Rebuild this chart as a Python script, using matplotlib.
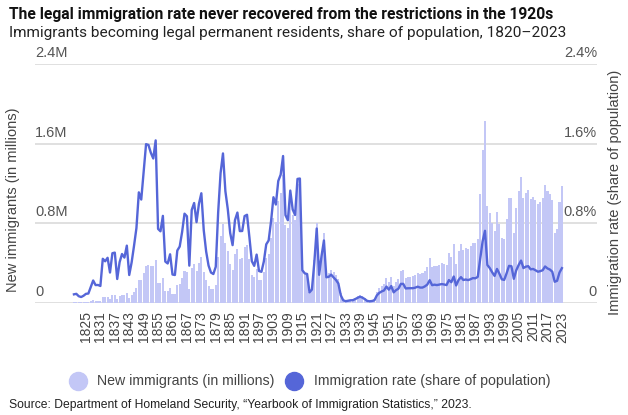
import matplotlib.pyplot as plt
from matplotlib.lines import Line2D
import matplotlib.transforms as mtransforms

years = list(range(1820, 2024))

# new legal permanent residents per year (millions)
immigrants = [
    0.008, 0.009, 0.007, 0.006, 0.008, 0.010, 0.011, 0.019, 0.027, 0.023,
    0.023, 0.023, 0.060, 0.059, 0.065, 0.045, 0.076, 0.079, 0.039, 0.068,
    0.084, 0.080, 0.105, 0.052, 0.079, 0.114, 0.154, 0.235, 0.227, 0.297,
    0.370, 0.379, 0.372, 0.369, 0.428, 0.201, 0.200, 0.251, 0.123, 0.121,
    0.154, 0.092, 0.092, 0.176, 0.193, 0.248, 0.319, 0.316, 0.139, 0.353,
    0.387, 0.321, 0.405, 0.460, 0.313, 0.227, 0.170, 0.142, 0.138, 0.178,
    0.457, 0.669, 0.789, 0.603, 0.519, 0.395, 0.334, 0.490, 0.547, 0.444,
    0.455, 0.560, 0.580, 0.440, 0.286, 0.259, 0.343, 0.231, 0.229, 0.312,
    0.449, 0.488, 0.649, 0.857, 0.813, 1.026, 1.101, 1.285, 0.783, 0.752,
    1.042, 0.879, 0.838, 1.198, 1.218, 0.327, 0.299, 0.295, 0.111, 0.141,
    0.430, 0.805, 0.310, 0.523, 0.707, 0.294, 0.304, 0.335, 0.307, 0.280,
    0.242, 0.097, 0.036, 0.023, 0.029, 0.035, 0.036, 0.050, 0.068, 0.083,
    0.071, 0.052, 0.029, 0.024, 0.029, 0.038, 0.109, 0.147, 0.171, 0.188,
    0.249, 0.206, 0.266, 0.170, 0.208, 0.238, 0.322, 0.327, 0.253, 0.261,
    0.265, 0.271, 0.284, 0.306, 0.292, 0.297, 0.323, 0.362, 0.454, 0.359,
    0.373, 0.370, 0.385, 0.399, 0.394, 0.385, 0.499, 0.459, 0.590, 0.394,
    0.524, 0.595, 0.534, 0.550, 0.542, 0.568, 0.600, 0.600, 0.641, 1.090,
    1.536, 1.827, 0.973, 0.904, 0.804, 0.720, 0.916, 0.798, 0.653, 0.645,
    0.841, 1.059, 1.059, 0.704, 0.958, 1.122, 1.266, 1.052, 1.107, 1.131,
    1.043, 1.062, 1.032, 0.991, 1.017, 1.051, 1.184, 1.127, 1.097, 1.032,
    0.707, 0.740, 1.018, 1.173,
]

# immigration rate (% of population)
rate = [
    0.087, 0.092, 0.068, 0.060, 0.073, 0.092, 0.095, 0.160, 0.226, 0.180,
    0.181, 0.171, 0.444, 0.419, 0.454, 0.306, 0.500, 0.506, 0.241, 0.410,
    0.492, 0.456, 0.576, 0.281, 0.408, 0.575, 0.753, 1.111, 1.039, 1.321,
    1.595, 1.587, 1.508, 1.451, 1.633, 0.744, 0.720, 0.875, 0.416, 0.397,
    0.489, 0.286, 0.281, 0.527, 0.567, 0.713, 0.897, 0.871, 0.375, 0.934,
    1.004, 0.812, 0.996, 1.102, 0.731, 0.517, 0.376, 0.306, 0.291, 0.364,
    0.911, 1.304, 1.502, 1.123, 0.943, 0.703, 0.581, 0.833, 0.908, 0.722,
    0.723, 0.873, 0.886, 0.659, 0.420, 0.373, 0.486, 0.321, 0.313, 0.417,
    0.589, 0.628, 0.820, 1.062, 0.989, 1.225, 1.289, 1.476, 0.882, 0.831,
    1.129, 0.939, 0.884, 1.246, 1.250, 0.330, 0.298, 0.291, 0.107, 0.135,
    0.406, 0.748, 0.283, 0.472, 0.628, 0.258, 0.263, 0.285, 0.257, 0.231,
    0.196, 0.078, 0.028, 0.018, 0.023, 0.027, 0.028, 0.039, 0.052, 0.063,
    0.054, 0.039, 0.021, 0.017, 0.020, 0.027, 0.076, 0.101, 0.116, 0.126,
    0.165, 0.134, 0.170, 0.107, 0.129, 0.144, 0.192, 0.192, 0.146, 0.148,
    0.148, 0.149, 0.154, 0.164, 0.155, 0.155, 0.167, 0.185, 0.229, 0.179,
    0.184, 0.180, 0.185, 0.190, 0.186, 0.180, 0.230, 0.209, 0.266, 0.176,
    0.231, 0.260, 0.231, 0.236, 0.230, 0.239, 0.250, 0.248, 0.263, 0.442,
    0.618, 0.725, 0.382, 0.350, 0.308, 0.272, 0.342, 0.294, 0.238, 0.232,
    0.299, 0.373, 0.369, 0.243, 0.328, 0.381, 0.426, 0.351, 0.365, 0.370,
    0.338, 0.342, 0.329, 0.314, 0.320, 0.329, 0.367, 0.347, 0.336, 0.314,
    0.213, 0.223, 0.306, 0.350,
]

tick_years = list(range(1825, 2024, 6))
left_labels = ["0", "0.8M", "1.6M", "2.4M"]
right_labels = ["0", "0.8%", "1.6%", "2.4%"]
grid_vals = [0, 0.8, 1.6, 2.4]

bar_color = "#c3c7f6"
line_color = "#5566d8"
txt = "#444444"

plt.rcParams['font.family'] = ['Liberation Sans', 'DejaVu Sans']
head_font = ['Roboto', 'DejaVu Sans']

fig = plt.figure(figsize=(6.28, 4.15), dpi=100)
W, H = 628, 415
ax = fig.add_axes([35 / W, 1 - 303 / H, (597 - 35) / W, (303 - 64) / H])

ax.bar(years, immigrants, width=0.85, color=bar_color, zorder=2)
ax.plot(years, rate, color=line_color, lw=1.7, zorder=3)

ax.set_xlim(1803.8, 2037.6)
ax.set_ylim(0, 2.4)
for v in grid_vals:
    ax.axhline(v, color="#dddddd", lw=1.3, zorder=1)

for s in ax.spines.values():
    s.set_visible(False)
ax.set_yticks([])
ax.set_xticks(tick_years)
ax.set_xticklabels([str(y) for y in tick_years], rotation=90, fontsize=10, color=txt)
ax.tick_params(axis='x', length=0, pad=6)

trans = mtransforms.blended_transform_factory(ax.transAxes, ax.transData)
for v, l, r in zip(grid_vals, left_labels, right_labels):
    ax.text(0.0, v + 0.04, l, transform=trans, ha='left', va='bottom', fontsize=10.5, color="#555555")
    ax.text(1.0, v + 0.04, r, transform=trans, ha='right', va='bottom', fontsize=10.5, color="#555555")

fig.text(13 / W, 1 - 200 / H, "New immigrants (in millions)", rotation=90, ha='center', va='center',
         fontsize=10.5, color=txt)
fig.text(615 / W, 1 - 192 / H, "Immigration rate (share of population)", rotation=90, ha='center',
         va='center', fontsize=10.5, color=txt)

t1 = fig.text(9 / W, 1 - 14 / H, "The legal immigration rate never recovered from the restrictions in the 1920s",
              fontsize=11, fontweight='bold', family=head_font, va='center', color="#111111")
t2 = fig.text(9 / W, 1 - 33 / H, "Immigrants becoming legal permanent residents, share of population, 1820\u20132023",
              fontsize=11, family=head_font, va='center', color="#222222")
t3 = fig.text(9 / W, 1 - 405 / H,
              "Source: Department of Homeland Security, \u201cYearbook of Immigration Statistics,\u201d 2023.",
              fontsize=9, va='center', color="#222222")

# legend drawn as circles plus labels
fig.add_artist(Line2D([78 / W], [1 - 381 / H], marker='o', ms=13, color=bar_color, ls='none'))
fig.add_artist(Line2D([294 / W], [1 - 381 / H], marker='o', ms=13, color=line_color, ls='none'))
t4 = fig.text(97 / W, 1 - 381 / H, "New immigrants (in millions)", fontsize=10.5,
              va='center', color=txt)
t5 = fig.text(314 / W, 1 - 381 / H, "Immigration rate (share of population)", fontsize=10.5,
              va='center', color=txt)

# fit text widths to the reference
fig.canvas.draw()
r = fig.canvas.get_renderer()
for t, target in [(t1, 545), (t2, 557), (t3, 463), (t4, 178), (t5, 237)]:
    w = t.get_window_extent(r).width
    t.set_fontsize(t.get_fontsize() * target / w)

fig.savefig("out.png", dpi=100)
